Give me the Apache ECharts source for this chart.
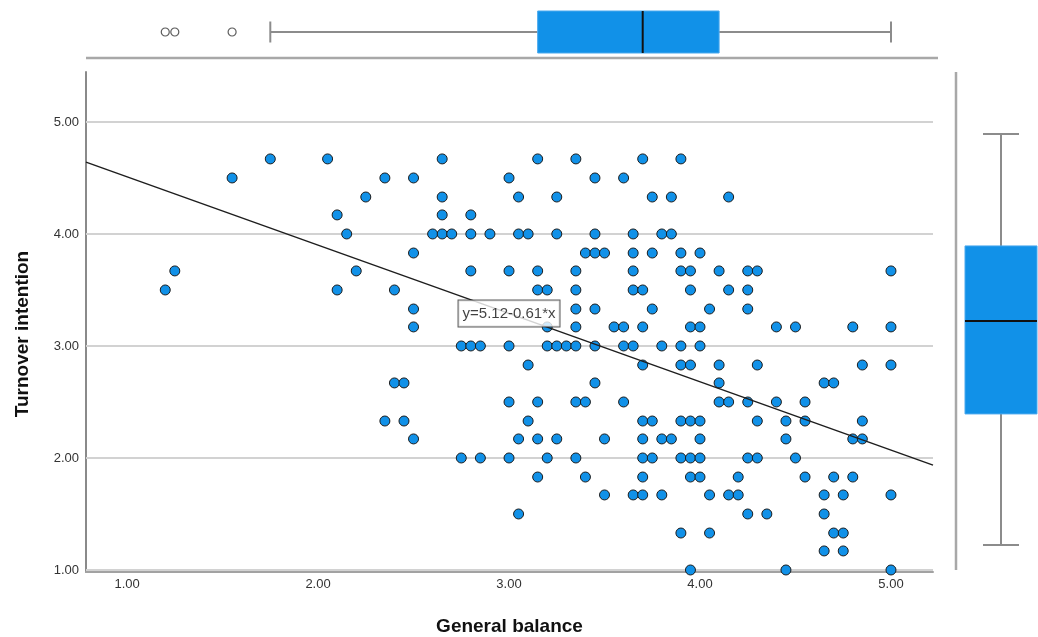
<!DOCTYPE html>
<html>
<head>
<meta charset="utf-8">
<script src="https://cdn.jsdelivr.net/npm/echarts@6/dist/echarts.min.js"></script>
<style>
  html, body { margin: 0; padding: 0; background: #fff; }
  #chart { width: 1038px; height: 637px; }
</style>
</head>
<body>
<div id="chart"></div>
<script>
// Turnover intention levels (rows) and the General balance scores observed at each level
const turnoverLevels = [4.67, 4.5, 4.33, 4.17, 4.0, 3.83, 3.67, 3.5, 3.33, 3.17, 3.0, 2.83, 2.67, 2.5, 2.33, 2.17, 2.0, 1.83, 1.67, 1.5, 1.33, 1.17, 1.0];
const balanceAtLevel = [
  [1.75, 2.05, 2.65, 3.15, 3.35, 3.70, 3.90],
  [1.55, 2.35, 2.50, 3.00, 3.45, 3.60],
  [2.25, 2.65, 3.05, 3.25, 3.75, 3.85, 4.15],
  [2.10, 2.65, 2.80],
  [2.15, 2.60, 2.65, 2.70, 2.80, 2.90, 3.05, 3.10, 3.25, 3.45, 3.65, 3.80, 3.85],
  [2.50, 3.40, 3.45, 3.50, 3.65, 3.75, 3.90, 4.00],
  [1.25, 2.20, 2.80, 3.00, 3.15, 3.35, 3.65, 3.90, 3.95, 4.10, 4.25, 4.30, 5.00],
  [1.20, 2.10, 2.40, 3.15, 3.20, 3.35, 3.65, 3.70, 3.95, 4.15, 4.25],
  [2.50, 3.35, 3.45, 3.75, 4.05, 4.25],
  [2.50, 3.20, 3.35, 3.55, 3.60, 3.70, 3.95, 4.00, 4.40, 4.50, 4.80, 5.00],
  [2.75, 2.80, 2.85, 3.00, 3.20, 3.25, 3.30, 3.35, 3.45, 3.60, 3.65, 3.80, 3.90, 4.00],
  [3.10, 3.70, 3.90, 3.95, 4.10, 4.30, 4.85, 5.00],
  [2.40, 2.45, 3.45, 4.10, 4.65, 4.70],
  [3.00, 3.15, 3.35, 3.40, 3.60, 4.10, 4.15, 4.25, 4.40, 4.55],
  [2.35, 2.45, 3.10, 3.70, 3.75, 3.90, 3.95, 4.00, 4.30, 4.45, 4.55, 4.85],
  [2.50, 3.05, 3.15, 3.25, 3.50, 3.70, 3.80, 3.85, 4.00, 4.45, 4.80, 4.85],
  [2.75, 2.85, 3.00, 3.20, 3.35, 3.70, 3.75, 3.90, 3.95, 4.00, 4.25, 4.30, 4.50],
  [3.15, 3.40, 3.70, 3.95, 4.00, 4.20, 4.55, 4.70, 4.80],
  [3.50, 3.65, 3.70, 3.80, 4.05, 4.15, 4.20, 4.65, 4.75, 5.00],
  [3.05, 4.25, 4.35, 4.65],
  [3.90, 4.05, 4.70, 4.75],
  [4.65, 4.75],
  [3.95, 4.45, 5.00]
];

// Fitted line: y = intercept + slope * x
const intercept = 5.12;
const slope = -0.61;

// Box-plot summaries [min whisker, Q1, median, Q3, max whisker]
const balanceBox = [1.75, 3.15, 3.70, 4.10, 5.00];
const balanceOutliers = [1.20, 1.25, 1.55];
const turnoverBox = [1.00, 2.17, 3.00, 3.67, 4.67];

// Tick labels
const balanceTicks = [1, 2, 3, 4, 5];
const turnoverTicks = [1, 2, 3, 4, 5];

const X_MIN = 0.785, X_MAX = 5.22;
const Y_MIN = 0.982, Y_MAX = 5.446;

const points = [];
turnoverLevels.forEach((t, i) => balanceAtLevel[i].forEach(b => points.push([b, t])));

const FONT = '"Liberation Sans", Arial, sans-serif';
const BLUE = '#1191e8';
const WHISKER = '#8c8c8c';

function horizontalBox(params, api) {
  const v = [0, 1, 2, 3, 4].map(i => api.value(i));
  const p = v.map(x => api.coord([x, 0.5]));
  const half = api.size([0, 1])[1] / 2;
  const cy = p[0][1];
  const cap = half * 0.5;
  const line = (x1, y1, x2, y2, color, w) => ({
    type: 'line', shape: { x1, y1, x2, y2 }, style: { stroke: color, lineWidth: w }
  });
  return {
    type: 'group',
    children: [
      line(p[0][0], cy, p[1][0], cy, WHISKER, 2),
      line(p[3][0], cy, p[4][0], cy, WHISKER, 2),
      line(p[0][0], cy - cap, p[0][0], cy + cap, WHISKER, 2),
      line(p[4][0], cy - cap, p[4][0], cy + cap, WHISKER, 2),
      { type: 'rect', shape: { x: p[1][0], y: cy - half, width: p[3][0] - p[1][0], height: half * 2 },
        style: { fill: BLUE, stroke: '#4aa9ee', lineWidth: 1 } },
      line(p[2][0], cy - half, p[2][0], cy + half, '#111', 2)
    ]
  };
}

function verticalBox(params, api) {
  const v = [0, 1, 2, 3, 4].map(i => api.value(i));
  const p = v.map(y => api.coord([0.5, y]));
  const half = api.size([1, 0])[0] / 2;
  const cx = p[0][0];
  const cap = half * 0.5;
  const line = (x1, y1, x2, y2, color, w) => ({
    type: 'line', shape: { x1, y1, x2, y2 }, style: { stroke: color, lineWidth: w }
  });
  return {
    type: 'group',
    children: [
      line(cx, p[0][1], cx, p[1][1], WHISKER, 2),
      line(cx, p[3][1], cx, p[4][1], WHISKER, 2),
      line(cx - cap, p[0][1], cx + cap, p[0][1], WHISKER, 2),
      line(cx - cap, p[4][1], cx + cap, p[4][1], WHISKER, 2),
      { type: 'rect', shape: { x: cx - half, y: p[3][1], width: half * 2, height: p[1][1] - p[3][1] },
        style: { fill: BLUE, stroke: '#4aa9ee', lineWidth: 1 } },
      line(cx - half, p[2][1], cx + half, p[2][1], '#111', 2)
    ]
  };
}

const chart = echarts.init(document.getElementById('chart'), null, { renderer: 'canvas' });

chart.setOption({
  animation: false,
  textStyle: { fontFamily: FONT },
  grid: [
    { left: 86, top: 72, width: 847, height: 500, outerBoundsMode: 'none', containLabel: false },
    { left: 86, top: 11, width: 847, height: 42, outerBoundsMode: 'none', containLabel: false },
    { left: 965, top: 47, width: 72, height: 500, outerBoundsMode: 'none', containLabel: false }
  ],
  xAxis: [
    {
      type: 'value', gridIndex: 0, min: X_MIN, max: X_MAX,
      axisLine: { show: true, lineStyle: { color: '#a2a2a2', width: 2 } },
      axisTick: { show: false },
      splitLine: { show: false },
      axisLabel: {
        customValues: balanceTicks, formatter: v => v.toFixed(2),
        fontSize: 13, color: '#333', margin: 6, fontFamily: FONT
      },
      name: 'General balance', nameLocation: 'middle', nameGap: 45,
      nameTextStyle: { fontSize: 19, fontWeight: 'bold', color: '#111', fontFamily: FONT }
    },
    { type: 'value', gridIndex: 1, min: X_MIN, max: X_MAX, show: false },
    { type: 'value', gridIndex: 2, min: 0, max: 1, show: false }
  ],
  yAxis: [
    {
      type: 'value', gridIndex: 0, min: Y_MIN, max: Y_MAX,
      axisLine: { show: true, lineStyle: { color: '#8a8a8a', width: 2 } },
      axisTick: { show: false },
      splitLine: { show: false },
      axisLabel: {
        customValues: turnoverTicks, formatter: v => v.toFixed(2),
        fontSize: 13, color: '#333', margin: 7, fontFamily: FONT
      },
      name: 'Turnover intention', nameLocation: 'middle', nameGap: 54,
      nameTextStyle: { fontSize: 19, fontWeight: 'bold', color: '#111', fontFamily: FONT, padding: [0, 24, 0, 0] }
    },
    { type: 'value', gridIndex: 1, min: 0, max: 1, show: false },
    { type: 'value', gridIndex: 2, min: Y_MIN, max: Y_MAX, show: false }
  ],
  graphic: [
    { type: 'line', shape: { x1: 86, y1: 58, x2: 938, y2: 58 }, style: { stroke: '#a8a8a8', lineWidth: 2.5 } },
    { type: 'line', shape: { x1: 956, y1: 72, x2: 956, y2: 570 }, style: { stroke: '#a8a8a8', lineWidth: 2.5 } }
  ],
  series: [
    {
      type: 'scatter', xAxisIndex: 0, yAxisIndex: 0,
      data: points,
      symbol: 'circle', symbolSize: 10,
      itemStyle: { color: BLUE, borderColor: '#1b1b1b', borderWidth: 1, opacity: 1 },
      z: 3,
      markLine: {
        silent: true, symbol: 'none', animation: false,
        label: { show: false },
        lineStyle: { color: '#d2d2d2', width: 2, type: 'solid' },
        data: turnoverTicks.map(v => ({ yAxis: v })),
        z: 1
      }
    },
    {
      type: 'line', xAxisIndex: 0, yAxisIndex: 0,
      data: [[X_MIN, intercept + slope * X_MIN], [X_MAX, intercept + slope * X_MAX]],
      symbol: 'none', clip: true,
      lineStyle: { color: '#1e1e1e', width: 1.5 },
      z: 4
    },
    {
      type: 'scatter', xAxisIndex: 0, yAxisIndex: 0,
      data: [[3.0, 3.29]],
      symbolSize: 0.1, z: 5, silent: true,
      label: {
        show: true, position: 'inside',
        formatter: 'y=' + intercept.toFixed(2) + '-' + Math.abs(slope).toFixed(2) + '*x',
        fontSize: 15, color: '#111', fontFamily: FONT,
        backgroundColor: '#fff', borderColor: '#333', borderWidth: 1,
        padding: [6, 4, 5, 4]
      }
    },
    {
      type: 'custom', xAxisIndex: 1, yAxisIndex: 1,
      renderItem: horizontalBox,
      data: [balanceBox]
    },
    {
      type: 'scatter', xAxisIndex: 1, yAxisIndex: 1,
      data: balanceOutliers.map(v => [v, 0.5]),
      symbol: 'circle', symbolSize: 8,
      itemStyle: { color: '#fff', borderColor: '#333', borderWidth: 1.2 }
    },
    {
      type: 'custom', xAxisIndex: 2, yAxisIndex: 2,
      renderItem: verticalBox,
      data: [turnoverBox]
    }
  ]
});
</script>
</body>
</html>
